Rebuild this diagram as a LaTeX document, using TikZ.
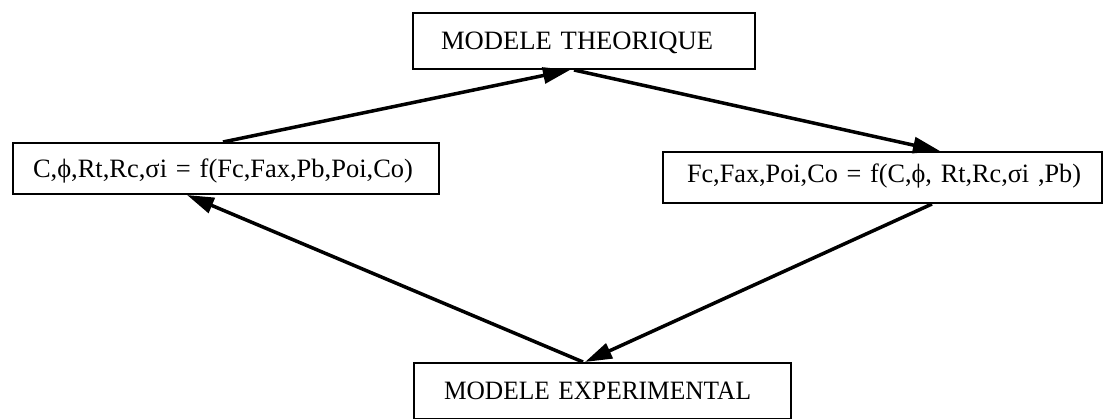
\documentclass[tikz,border=0pt]{standalone}
\usepackage{fontspec}
\setmainfont{Liberation Serif}
\usetikzlibrary{arrows.meta}
\begin{document}
\begin{tikzpicture}[x=1pt,y=-1pt,
  every node/.style={font=\fontsize{26.5}{30}\selectfont},
  box/.style={draw=black, line width=2pt, rectangle, align=left, anchor=north west,
    inner sep=0pt, text height=18pt, text depth=0pt},
  flow/.style={line width=3.5pt, -{Triangle[length=27pt,width=16pt]}}
]
\useasboundingbox (0,0) rectangle (1104,419);

% the four boxes (text width = box width, left margin given by \hspace*)
\node[box, minimum height=56pt, text width=342pt] (theo) at (412,12)
  {\hspace*{28pt}\resizebox{272pt}{\height}{MODELE THEORIQUE}};
\node[box, minimum height=51pt, text width=426pt] (left) at (12,142)
  {\hspace*{20pt}\resizebox{380pt}{\height}{C,ϕ,Rt,Rc,σi = f(Fc,Fax,Pb,Poi,Co)}};
\node[box, minimum height=51pt, text width=439pt] (right) at (662,151)
  {\hspace*{24pt}\raisebox{4pt}{\resizebox{394pt}{\height}{Fc,Fax,Poi,Co = f(C,ϕ, Rt,Rc,σi ,Pb)}}};
\node[box, minimum height=56pt, text width=377pt] (expe) at (413,362)
  {\hspace*{30pt}\resizebox{307pt}{\height}{MODELE EXPERIMENTAL}};

% points where the connectors meet the boxes
\coordinate (l-top) at ([xshift=211pt]left.north west);
\coordinate (l-bot) at ([xshift=175pt]left.south west);
\coordinate (t-in)  at ([xshift=158pt]theo.south west);
\coordinate (t-out) at ([xshift=162pt]theo.south west);
\coordinate (r-top) at ([xshift=278pt]right.north west);
\coordinate (r-bot) at ([xshift=270pt]right.south west);
\coordinate (e-in)  at ([xshift=172pt]expe.north west);
\coordinate (e-out) at ([xshift=170pt]expe.north west);

% the cycle of connectors
\draw[flow] (l-top) -- (t-in);
\draw[flow] (t-out) -- (r-top);
\draw[flow] (r-bot) -- (e-in);
\draw[flow] (e-out) -- (l-bot);
\end{tikzpicture}
\end{document}
